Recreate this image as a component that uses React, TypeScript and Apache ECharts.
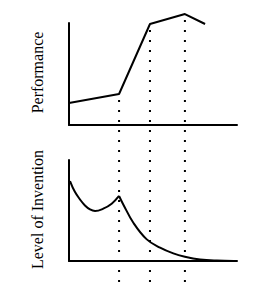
import React, { useEffect, useRef } from "react";
import * as echarts from "echarts";

// Performance curve (top panel)
const perfX = [0, 29.8, 48.2, 69, 81];
const perfY = [21.6, 30.4, 99, 108.8, 99];

// Level of invention curve (bottom panel), split at the sharp peak
const invX1 = [0.6, 3.5, 6.5, 9.5, 12.5, 15.5, 20.4, 25.4, 29.8];
const invY1 = [79.2, 68.5, 61.0, 55.0, 51.1, 49.5, 51.8, 56.7, 64.4];
const invX2 = [29.8, 32.3, 38.3, 46.3, 54.2, 62.1, 69, 78, 88, 98];
const invY2 = [64.4, 56.0, 37.9, 21.4, 13.2, 7.5, 4.3, 1.6, 0.4, 0];

// dotted drop lines at these points of the performance curve
const dropIdx = [1, 2, 3];

const labelTop = "Performance";
const labelBottom = "Level of Invention";

const axisStyle = { color: "#000", width: 2 };

function pairs(xs: number[], ys: number[]) {
  return xs.map((x, i) => [x, ys[i]]);
}

export default function App() {
  const ref = useRef<HTMLDivElement>(null);
  useEffect(() => {
    const chart = echarts.init(ref.current!, null, { renderer: "svg" });
    const xAx = (g: number) => ({
      gridIndex: g,
      type: "value",
      min: 0,
      max: 100,
      axisLine: { show: true, onZero: false, lineStyle: axisStyle },
      axisTick: { show: false },
      axisLabel: { show: false },
      splitLine: { show: false },
    });
    const yAx = (g: number) => ({
      gridIndex: g,
      type: "value",
      min: 0,
      max: 100,
      axisLine: { show: true, onZero: false, lineStyle: axisStyle },
      axisTick: { show: false },
      axisLabel: { show: false },
      splitLine: { show: false },
    });
    const lineStyle = { color: "#000", width: 2 };
    chart.setOption({
      animation: false,
      grid: [
        { left: 69, right: 29, top: 23, height: 102 },
        { left: 69, right: 29, top: 160, height: 101 },
      ],
      xAxis: [xAx(0), xAx(1)],
      yAxis: [yAx(0), yAx(1)],
      series: [
        {
          type: "line",
          xAxisIndex: 0,
          yAxisIndex: 0,
          data: pairs(perfX, perfY),
          showSymbol: false,
          clip: false,
          lineStyle,
        },
        {
          type: "line",
          xAxisIndex: 1,
          yAxisIndex: 1,
          data: pairs(invX1, invY1),
          showSymbol: false,
          smooth: 0.4,
          clip: false,
          lineStyle,
        },
        {
          type: "line",
          xAxisIndex: 1,
          yAxisIndex: 1,
          data: pairs(invX2, invY2),
          showSymbol: false,
          smooth: 0.4,
          clip: false,
          lineStyle,
        },
      ],
    });

    const drops = dropIdx.map((i) => {
      const top = chart.convertToPixel({ gridIndex: 0 }, [perfX[i], perfY[i]]) as number[];
      const bot = chart.convertToPixel({ gridIndex: 1 }, [perfX[i], 0]) as number[];
      return {
        type: "line",
        shape: { x1: top[0], y1: top[1] + 6, x2: top[0], y2: bot[1] + 22 },
        style: { stroke: "#000", lineWidth: 2, lineDash: [2, 8] },
        z: 10,
      };
    });
    const textStyle = {
      fill: "#000",
      fontFamily: "'Liberation Serif', 'Times New Roman', serif",
      fontSize: 16,
      align: "center",
      verticalAlign: "middle",
    };
    chart.setOption({
      graphic: [
        ...drops,
        {
          type: "text",
          x: 37,
          y: 72.5,
          rotation: Math.PI / 2,
          style: { ...textStyle, text: labelTop },
        },
        {
          type: "text",
          x: 37,
          y: 209.5,
          rotation: Math.PI / 2,
          style: { ...textStyle, text: labelBottom },
        },
      ],
    });
    return () => chart.dispose();
  }, []);
  return (
    <div
      ref={ref}
      style={{ position: "fixed", left: 0, top: 0, width: 266, height: 286, background: "#fff" }}
    />
  );
}
